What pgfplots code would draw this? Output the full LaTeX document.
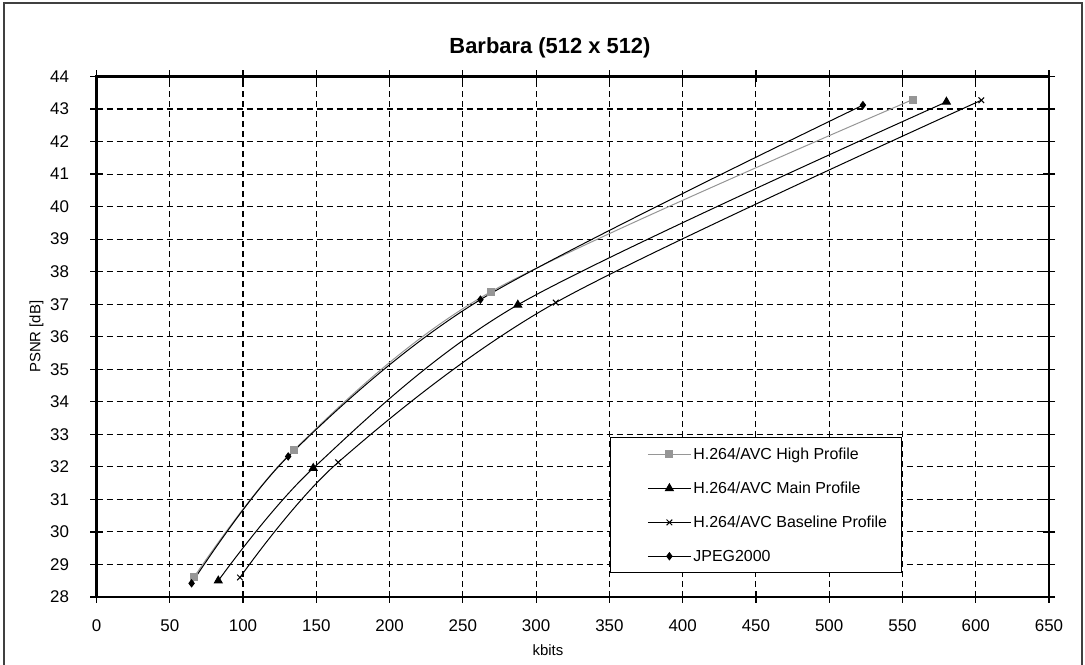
\documentclass[border=0pt]{standalone}
\usepackage{pgfplots}
\pgfplotsset{compat=1.18}
\usepackage{fontspec}
\setmainfont{Liberation Sans}
\definecolor{hpgray}{RGB}{150,150,150}
\begin{document}
\begin{tikzpicture}[x=1bp,y=1bp]
\path[use as bounding box] (0,0) rectangle (1085,665);
\draw[line width=1.5bp, black!75] (4,0) -- (4,662) -- (1082,662) -- (1082,0);
\node[font=\fontsize{22}{26}\selectfont\bfseries] at (550,617) {Barbara (512 x 512)};
\begin{axis}[
  at={(96.5bp,68bp)}, anchor=south west,
  scale only axis, width=952.5bp, height=520.5bp,
  xmin=0, xmax=650, ymin=28, ymax=44,
  xtick distance=50, ytick distance=1,
  grid=major,
  major grid style={black, line width=1.1bp, dash pattern=on 6bp off 4bp},
  axis line style={line width=2.5bp},
  tick style={black, line width=1.2bp},
  major tick length=12bp, tick align=center,
  ticklabel style={font=\fontsize{17}{20}\selectfont},
  /pgf/number format/assume math mode=true,
  xticklabel style={yshift=-13bp},
  yticklabel style={xshift=-18bp},
  xlabel={kbits}, ylabel={PSNR [dB]},
  xlabel style={font=\fontsize{15}{18}\selectfont, at={(axis description cs:0.474,-0.102)}, anchor=center},
  ylabel style={font=\fontsize{15}{18}\selectfont, at={(axis description cs:-0.063,0.5)}, anchor=center},
  legend style={at={(0.539,0.046)}, anchor=south west,
    font=\fontsize{16}{19}\selectfont, draw=black, line width=1bp, fill=white,
    inner xsep=12bp, inner ysep=8bp, row sep=17bp, cells={anchor=west}},
  legend image code/.code={
    \path (0bp,0bp) (68bp,0bp);
    \draw[mark repeat=2,mark phase=2] plot coordinates {(25bp,0bp) (46.5bp,0bp) (68bp,0bp)};
  },
]
\addplot[hpgray, line width=1bp, smooth, mark=square*, mark size=3.5bp, mark options={solid}] coordinates {
 (66.7,28.62) (134.7,32.52) (269,37.38) (557,43.29)};
\addlegendentry{H.264/AVC High Profile}
\addplot[black, line width=1bp, smooth, mark=triangle*, mark size=4.5bp] coordinates {
 (83.1,28.5) (147.9,31.96) (287.5,36.98) (580,43.22)};
\addlegendentry{H.264/AVC Main Profile}
\addplot[black, line width=1bp, smooth, mark=x, mark size=4bp] coordinates {
 (97.9,28.6) (164.9,32.14) (313.4,37.05) (603.8,43.27)};
\addlegendentry{H.264/AVC Baseline Profile}
\addplot[black, line width=1bp, smooth, mark=diamond*, mark size=3.5bp] coordinates {
 (64.9,28.42) (130.8,32.32) (262,37.14) (523,43.12)};
\addlegendentry{JPEG2000}
\end{axis}
\end{tikzpicture}
\end{document}
